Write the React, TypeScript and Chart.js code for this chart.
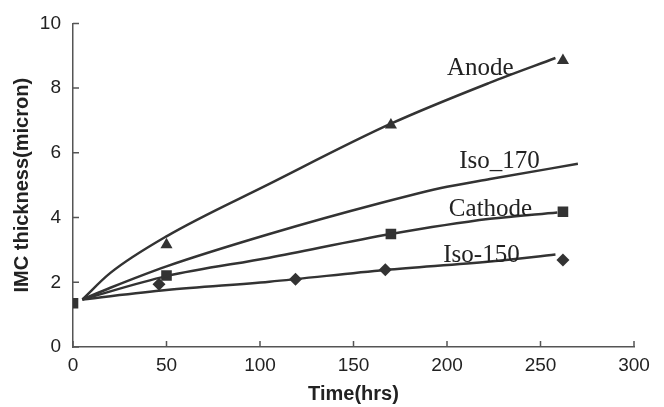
import React, { useEffect, useRef } from 'react';
import { Chart, registerables } from 'chart.js';

Chart.register(...registerables);

// Measured points (markers)
const anodeT = [50, 170, 262];
const anodeV = [3.16, 6.86, 8.85];
const cathodeT = [0, 50, 170, 262];
const cathodeV = [1.35, 2.21, 3.49, 4.18];
const iso150T = [46, 119, 167, 262];
const iso150V = [1.94, 2.09, 2.39, 2.69];

// Fitted curves
const anodeFitT = [5, 20, 50, 105, 170, 223, 258];
const anodeFitV = [1.47, 2.29, 3.42, 5.04, 6.9, 8.17, 8.93];
const iso170FitT = [5, 20, 50, 105, 164, 200, 223, 270];
const iso170FitV = [1.47, 1.83, 2.49, 3.49, 4.44, 4.95, 5.19, 5.66];
const cathodeFitT = [5, 50, 105, 170, 223, 259];
const cathodeFitV = [1.47, 2.19, 2.76, 3.49, 3.96, 4.16];
const iso150FitT = [5, 50, 105, 167, 223, 258];
const iso150FitV = [1.47, 1.76, 2.02, 2.38, 2.64, 2.86];

// Curve labels (data coordinates of text baseline start)
const labelTexts = ['Anode', 'Iso_170', 'Cathode', 'Iso-150'];
const labelT = [200, 206.5, 201, 198];
const labelV = [8.42, 5.53, 4.06, 2.63];

const xTicksMin = 0;
const xTicksMax = 300;
const xStep = 50;
const yTicksMin = 0;
const yTicksMax = 10;
const yStep = 2;

const toPts = (t: number[], v: number[]) => t.map((x, i) => ({ x, y: v[i] }));

const LINE = '#333333';
const TEXT = '#222222';
const AXIS = '#555555';

export default function App() {
  const ref = useRef<HTMLCanvasElement | null>(null);

  useEffect(() => {
    document.body.style.margin = '0';
    const canvas = ref.current;
    if (!canvas) return;

    const innerTicks = {
      id: 'innerTicks',
      afterDraw(chart: any) {
        const { ctx, chartArea } = chart;
        const xs = chart.scales.x;
        const ys = chart.scales.y;
        ctx.save();
        ctx.strokeStyle = AXIS;
        ctx.lineWidth = 1.5;
        ctx.beginPath();
        xs.ticks.forEach((t: any) => {
          const px = xs.getPixelForValue(t.value);
          ctx.moveTo(px, chartArea.bottom);
          ctx.lineTo(px, chartArea.bottom - 6);
        });
        ys.ticks.forEach((t: any) => {
          const py = ys.getPixelForValue(t.value);
          ctx.moveTo(chartArea.left, py);
          ctx.lineTo(chartArea.left + 6, py);
        });
        ctx.stroke();
        ctx.restore();
      },
    };

    const curveLabels = {
      id: 'curveLabels',
      afterDatasetsDraw(chart: any) {
        const { ctx } = chart;
        const xs = chart.scales.x;
        const ys = chart.scales.y;
        ctx.save();
        ctx.fillStyle = TEXT;
        ctx.font = '25px "Liberation Serif", "Times New Roman", serif';
        ctx.textAlign = 'left';
        ctx.textBaseline = 'alphabetic';
        labelTexts.forEach((txt, i) => {
          ctx.fillText(txt, xs.getPixelForValue(labelT[i]), ys.getPixelForValue(labelV[i]));
        });
        ctx.restore();
      },
    };

    const fitStyle = {
      showLine: true,
      borderColor: LINE,
      backgroundColor: LINE,
      borderWidth: 2.5,
      pointRadius: 0,
      pointHoverRadius: 0,
      tension: 0.4,
      cubicInterpolationMode: 'monotone' as const,
    };
    const markerStyle = {
      showLine: false,
      borderColor: LINE,
      backgroundColor: LINE,
      borderWidth: 0,
    };

    const chart = new Chart(canvas, {
      type: 'scatter',
      data: {
        datasets: [
          { label: 'Anode fit', data: toPts(anodeFitT, anodeFitV), ...fitStyle },
          { label: 'Iso_170 fit', data: toPts(iso170FitT, iso170FitV), ...fitStyle },
          { label: 'Cathode fit', data: toPts(cathodeFitT, cathodeFitV), ...fitStyle },
          { label: 'Iso-150 fit', data: toPts(iso150FitT, iso150FitV), ...fitStyle },
          { label: 'Anode', data: toPts(anodeT, anodeV), ...markerStyle, pointStyle: 'triangle', pointRadius: 7 },
          { label: 'Cathode', data: toPts(cathodeT, cathodeV), ...markerStyle, pointStyle: 'rect', pointRadius: 7.5 },
          { label: 'Iso-150', data: toPts(iso150T, iso150V), ...markerStyle, pointStyle: 'rectRot', pointRadius: 6.5 },
        ] as any,
      },
      options: {
        animation: false,
        responsive: false,
        maintainAspectRatio: false,
        layout: { padding: { top: 15, right: 30, left: 0, bottom: 0 } },
        plugins: {
          legend: { display: false },
          tooltip: { enabled: false },
        },
        scales: {
          x: {
            type: 'linear',
            min: xTicksMin,
            max: xTicksMax,
            ticks: {
              stepSize: xStep,
              color: TEXT,
              padding: 7,
              font: { family: '"Liberation Sans", Arial, sans-serif', size: 19 },
            },
            grid: { drawOnChartArea: false, drawTicks: false },
            border: { display: true, color: AXIS, width: 1.5 },
            title: {
              display: true,
              text: 'Time(hrs)',
              color: TEXT,
              font: { family: '"Liberation Sans", Arial, sans-serif', size: 20, weight: 'bold' },
              padding: { top: 0, bottom: 1 },
            },
            afterFit: (s: any) => {
              s.height = 60;
            },
          },
          y: {
            type: 'linear',
            min: yTicksMin,
            max: yTicksMax,
            ticks: {
              stepSize: yStep,
              color: TEXT,
              padding: 12,
              font: { family: '"Liberation Sans", Arial, sans-serif', size: 19 },
            },
            grid: { drawOnChartArea: false, drawTicks: false },
            border: { display: true, color: AXIS, width: 1.5 },
            title: {
              display: true,
              text: 'IMC thickness(micron)',
              color: TEXT,
              font: { family: '"Liberation Sans", Arial, sans-serif', size: 20, weight: 'bold' },
              padding: { top: 10, bottom: 0 },
            },
            afterFit: (s: any) => {
              s.width = 73;
            },
          },
        },
      } as any,
      plugins: [innerTicks, curveLabels],
    });

    return () => chart.destroy();
  }, []);

  return (
    <div style={{ width: 664, height: 407 }}>
      <canvas ref={ref} width={664} height={407} style={{ display: 'block' }} />
    </div>
  );
}
